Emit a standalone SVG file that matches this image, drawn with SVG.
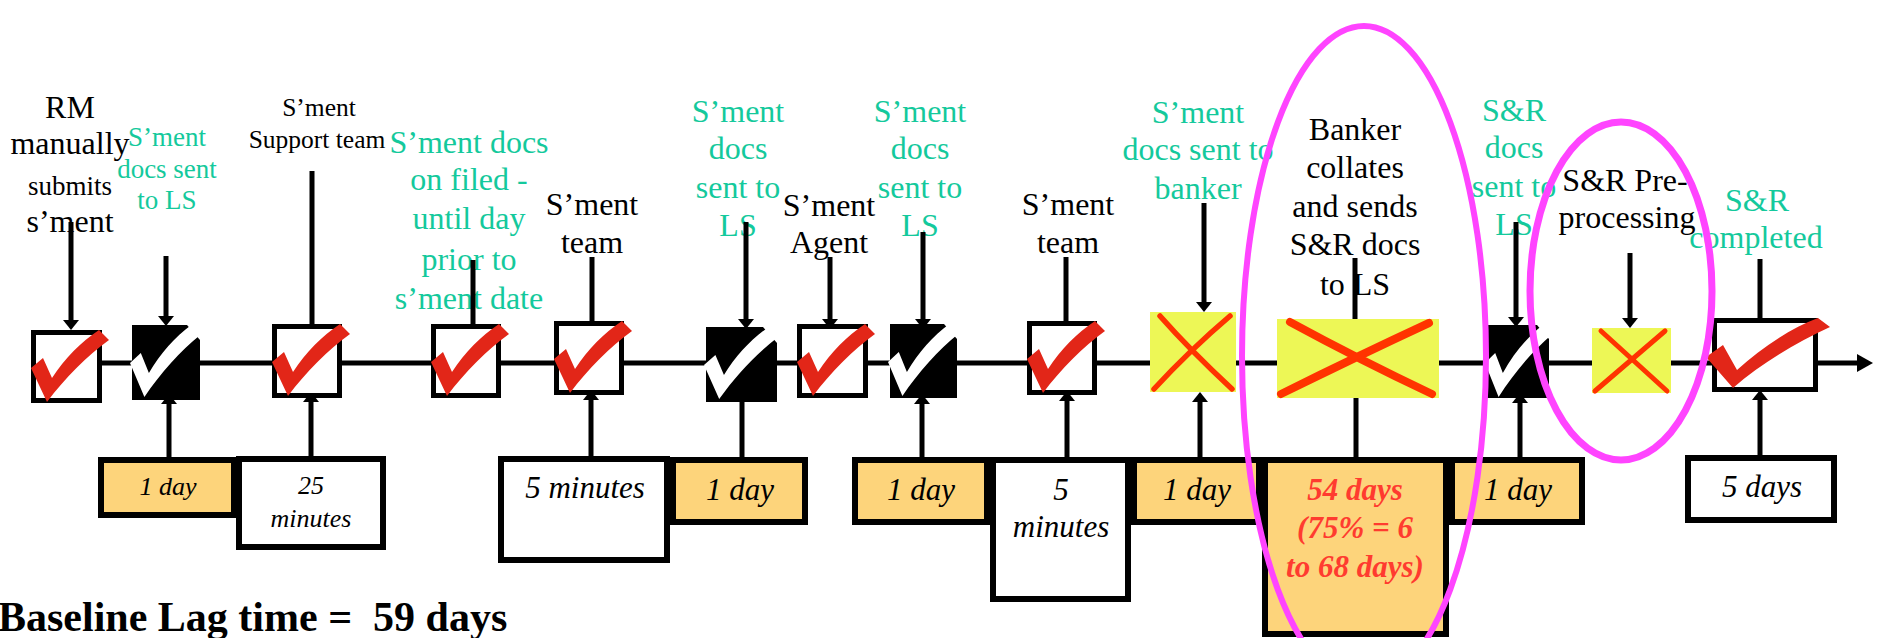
<svg xmlns="http://www.w3.org/2000/svg" xmlns:xlink="http://www.w3.org/1999/xlink" width="1880" height="638" viewBox="0 0 1880 638">
  <style>
    text { font-family: "Liberation Serif", "Times New Roman", serif; text-anchor: middle; }
    .k { fill: #000000; }
    .t { fill: #14C99C; }
    .f32 { font-size: 32px; }
    .f27 { font-size: 27px; }
    .f25 { font-size: 25.5px; }
    .dur { font-style: italic; font-size: 31px; fill: #000000; }
    .dur-s { font-style: italic; font-size: 26px; fill: #000000; }
    .dur-red { font-style: italic; font-weight: bold; font-size: 31px; fill: #FF3B2F; }
    .conn { stroke: #000000; stroke-width: 5; fill: none; }
    .box { fill: #FFFFFF; stroke: #000000; stroke-width: 5; }
    .blk { fill: #000000; }
    .yel { fill: #EDF756; }
    .org { fill: #FDD47B; stroke: #000000; stroke-width: 6; }
    .wht { fill: #FFFFFF; stroke: #000000; stroke-width: 6; }
    .tick-r { fill: #E22618; }
    .tick-w { fill: #FFFFFF; }
    .cross { stroke: #FF3300; fill: none; stroke-linecap: round; }
    .ring { fill: none; stroke: #FF44FF; }
  </style>
  <defs>
    <marker id="ah" viewBox="0 0 10 16" refX="4" refY="8" markerWidth="10" markerHeight="16" markerUnits="userSpaceOnUse" orient="auto">
      <path d="M0,0 L10,8 L0,16 Z" fill="#000000"/>
    </marker>
    <marker id="mh" viewBox="0 0 16 18" refX="6" refY="9" markerWidth="16" markerHeight="18" markerUnits="userSpaceOnUse" orient="auto">
      <path d="M0,0 L16,9 L0,18 Z" fill="#000000"/>
    </marker>
    <path id="tick" d="M0,38 L12,28 L21,48 C34,28 50,12 68,0 L78,10 C56,26 34,48 16,72 Z"/>
  </defs>

  <rect x="0" y="0" width="1880" height="638" fill="#FFFFFF"/>

  <!-- step labels above the timeline -->
  <g id="lbl-rm" class="k">
    <text class="f32" x="70" y="118">RM</text>
    <text class="f32" x="70" y="154">manually</text>
    <text class="f27" x="70" y="195">submits</text>
    <text class="f32" x="70" y="232">s’ment</text>
  </g>
  <g id="lbl-docs-ls-1" class="t">
    <text class="f27" x="167" y="146">S’ment</text>
    <text class="f27" x="167" y="178">docs sent</text>
    <text class="f27" x="167" y="209">to LS</text>
  </g>
  <g id="lbl-support" class="k">
    <text class="f25" x="319" y="116">S’ment</text>
    <text class="f25" x="317" y="148">Support team</text>
  </g>
  <g id="lbl-filed" class="t">
    <text class="f32" x="469" y="153">S’ment docs</text>
    <text class="f32" x="469" y="190">on filed -</text>
    <text class="f32" x="469" y="229">until day</text>
    <text class="f32" x="469" y="270">prior to</text>
    <text class="f32" x="469" y="309">s’ment date</text>
  </g>
  <g id="lbl-team-1" class="k">
    <text class="f32" x="592" y="215">S’ment</text>
    <text class="f32" x="592" y="253">team</text>
  </g>
  <g id="lbl-docs-ls-2" class="t">
    <text class="f32" x="738" y="122">S’ment</text>
    <text class="f32" x="738" y="159">docs</text>
    <text class="f32" x="738" y="198">sent to</text>
    <text class="f32" x="738" y="236">LS</text>
  </g>
  <g id="lbl-agent" class="k">
    <text class="f32" x="829" y="216">S’ment</text>
    <text class="f32" x="829" y="253">Agent</text>
  </g>
  <g id="lbl-docs-ls-3" class="t">
    <text class="f32" x="920" y="122">S’ment</text>
    <text class="f32" x="920" y="159">docs</text>
    <text class="f32" x="920" y="198">sent to</text>
    <text class="f32" x="920" y="236">LS</text>
  </g>
  <g id="lbl-team-2" class="k">
    <text class="f32" x="1068" y="215">S’ment</text>
    <text class="f32" x="1068" y="253">team</text>
  </g>
  <g id="lbl-docs-banker" class="t">
    <text class="f32" x="1198" y="123">S’ment</text>
    <text class="f32" x="1198" y="160">docs sent to</text>
    <text class="f32" x="1198" y="199">banker</text>
  </g>
  <g id="lbl-collates" class="k">
    <text class="f32" x="1355" y="140">Banker</text>
    <text class="f32" x="1355" y="178">collates</text>
    <text class="f32" x="1355" y="217">and sends</text>
    <text class="f32" x="1355" y="255">S&amp;R docs</text>
    <text class="f32" x="1355" y="295">to LS</text>
  </g>
  <g id="lbl-sr-docs" class="t">
    <text class="f32" x="1514" y="121">S&amp;R</text>
    <text class="f32" x="1514" y="158">docs</text>
    <text class="f32" x="1514" y="197">sent to</text>
    <text class="f32" x="1514" y="235">LS</text>
  </g>
  <g id="lbl-preproc" class="k">
    <text class="f32" x="1625" y="191">S&amp;R Pre-</text>
    <text class="f32" x="1627" y="228">processing</text>
  </g>
  <g id="lbl-completed" class="t">
    <text class="f32" x="1757" y="211">S&amp;R</text>
    <text class="f32" x="1756" y="248">completed</text>
  </g>

  <!-- timeline, inputs from above and lag times from below -->
  <g id="connectors" class="conn">
    <line x1="31" y1="363" x2="1863" y2="363" marker-end="url(#mh)"/>

    <line x1="71" y1="222" x2="71" y2="324" marker-end="url(#ah)"/>
    <line x1="166" y1="256" x2="166" y2="320" marker-end="url(#ah)"/>
    <line x1="312" y1="171" x2="312" y2="326"/>
    <line x1="473" y1="260" x2="473" y2="326"/>
    <line x1="592" y1="257" x2="592" y2="323"/>
    <line x1="746" y1="222" x2="746" y2="323" marker-end="url(#ah)"/>
    <line x1="830" y1="257" x2="830" y2="323" marker-end="url(#ah)"/>
    <line x1="923" y1="232" x2="923" y2="323" marker-end="url(#ah)"/>
    <line x1="1066" y1="257" x2="1066" y2="323"/>
    <line x1="1204" y1="203" x2="1204" y2="306" marker-end="url(#ah)"/>
    <line x1="1355" y1="258" x2="1355" y2="321"/>
    <line x1="1516" y1="222" x2="1516" y2="321" marker-end="url(#ah)"/>
    <line x1="1630" y1="253" x2="1630" y2="322" marker-end="url(#ah)"/>
    <line x1="1760" y1="259" x2="1760" y2="320"/>

    <line x1="169" y1="460" x2="169" y2="400" marker-end="url(#ah)"/>
    <line x1="311" y1="459" x2="311" y2="398" marker-end="url(#ah)"/>
    <line x1="591" y1="459" x2="591" y2="396" marker-end="url(#ah)"/>
    <line x1="742" y1="460" x2="742" y2="402"/>
    <line x1="922" y1="460" x2="922" y2="400" marker-end="url(#ah)"/>
    <line x1="1067" y1="460" x2="1067" y2="397" marker-end="url(#ah)"/>
    <line x1="1200" y1="460" x2="1200" y2="398" marker-end="url(#ah)"/>
    <line x1="1356" y1="460" x2="1356" y2="398"/>
    <line x1="1520" y1="460" x2="1520" y2="399" marker-end="url(#ah)"/>
    <line x1="1760" y1="458" x2="1760" y2="396" marker-end="url(#ah)"/>
  </g>

  <!-- process steps on the timeline -->
  <g id="step-01">
    <rect class="box" x="33.5" y="332.5" width="66" height="68"/>
    <use href="#tick" class="tick-r" transform="translate(31,330)"/>
  </g>
  <g id="step-02">
    <path class="blk" d="M132,325 L187,325 L200,340 L200,400 L132,400 Z"/>
    <use href="#tick" class="tick-w" transform="translate(130,325) scale(0.9,1)"/>
  </g>
  <g id="step-03">
    <rect class="box" x="274.5" y="326.5" width="65" height="69"/>
    <use href="#tick" class="tick-r" transform="translate(272,324)"/>
  </g>
  <g id="step-04">
    <rect class="box" x="433.5" y="326.5" width="65" height="69"/>
    <use href="#tick" class="tick-r" transform="translate(431,324)"/>
  </g>
  <g id="step-05">
    <rect class="box" x="556.5" y="323.5" width="65" height="69"/>
    <use href="#tick" class="tick-r" transform="translate(554,321)"/>
  </g>
  <g id="step-06">
    <path class="blk" d="M706,327 L763,327 L777,343 L777,402 L706,402 Z"/>
    <use href="#tick" class="tick-w" transform="translate(704,327) scale(0.95,1)"/>
  </g>
  <g id="step-07">
    <rect class="box" x="799.5" y="326.5" width="66" height="69"/>
    <use href="#tick" class="tick-r" transform="translate(797,324)"/>
  </g>
  <g id="step-08">
    <path class="blk" d="M890,324 L944,324 L957,339 L957,398 L890,398 Z"/>
    <use href="#tick" class="tick-w" transform="translate(888,324) scale(0.9,1)"/>
  </g>
  <g id="step-09">
    <rect class="box" x="1029.5" y="323.5" width="65" height="69"/>
    <use href="#tick" class="tick-r" transform="translate(1027,321)"/>
  </g>
  <g id="step-10">
    <rect class="yel" x="1150" y="312" width="86" height="80"/>
    <path class="cross" stroke-width="5.5" d="M1160,316 Q1190,350 1232,389 M1230,316 Q1190,350 1154,389"/>
  </g>
  <g id="step-11">
    <rect class="yel" x="1277" y="319" width="162" height="79"/>
    <path class="cross" stroke-width="8" d="M1290,322 Q1360,360 1432,394 M1281,394 Q1360,355 1429,323"/>
  </g>
  <g id="step-12">
    <path class="blk" d="M1487,325 L1537,325 L1549,339 L1549,398 L1487,398 Z"/>
    <use href="#tick" class="tick-w" transform="translate(1485,325) scale(0.85,1)"/>
  </g>
  <g id="step-13">
    <rect class="yel" x="1592" y="328" width="79" height="65"/>
    <path class="cross" stroke-width="5" d="M1601,331 L1667,391 M1665,331 L1595,391"/>
  </g>
  <g id="step-14">
    <rect class="box" x="1714.5" y="320.5" width="101" height="69"/>
    <path class="tick-r" d="M1706,357 L1723,345 L1737,370 C1761,348 1791,328 1818,318 L1830,327 C1796,343 1761,363 1733,388 Z"/>
  </g>

  <!-- lag times under each step -->
  <g id="lag-01">
    <rect class="org" x="101" y="460" width="133" height="55"/>
    <text class="dur-s" x="168" y="495">1 day</text>
  </g>
  <g id="lag-02">
    <rect class="wht" x="239" y="459" width="144" height="88"/>
    <text class="dur-s" x="311" y="494">25</text>
    <text class="dur-s" x="311" y="527">minutes</text>
  </g>
  <g id="lag-03">
    <rect class="wht" x="501" y="459" width="166" height="101"/>
    <text class="dur" x="585" y="498">5 minutes</text>
  </g>
  <g id="lag-04">
    <rect class="org" x="673" y="460" width="132" height="62"/>
    <text class="dur" x="740" y="500">1 day</text>
  </g>
  <g id="lag-05">
    <rect class="org" x="855" y="460" width="132" height="62"/>
    <text class="dur" x="921" y="500">1 day</text>
  </g>
  <g id="lag-06">
    <rect class="wht" x="993" y="460" width="135" height="139"/>
    <text class="dur" x="1061" y="500">5</text>
    <text class="dur" x="1061" y="537">minutes</text>
  </g>
  <g id="lag-07">
    <rect class="org" x="1134" y="460" width="125" height="62"/>
    <text class="dur" x="1197" y="500">1 day</text>
  </g>
  <g id="lag-08">
    <rect class="org" x="1265" y="460" width="181" height="174"/>
    <text class="dur-red" x="1355" y="500">54 days</text>
    <text class="dur-red" x="1355" y="538">(75% = 6</text>
    <text class="dur-red" x="1355" y="577">to 68 days)</text>
  </g>
  <g id="lag-09">
    <rect class="org" x="1452" y="460" width="130" height="62"/>
    <text class="dur" x="1518" y="500">1 day</text>
  </g>
  <g id="lag-10">
    <rect class="wht" x="1688" y="458" width="146" height="62"/>
    <text class="dur" x="1762" y="497">5 days</text>
  </g>

  <!-- highlighted bottlenecks -->
  <g id="focus-banker">
    <ellipse class="ring" stroke-width="6" cx="1364" cy="356" rx="122" ry="330"/>
  </g>
  <g id="focus-preproc">
    <ellipse class="ring" stroke-width="7" cx="1621" cy="291" rx="91" ry="169"/>
  </g>

  <g id="total">
    <text x="-2" y="631" xml:space="preserve" style="text-anchor:start;font-weight:bold;font-size:42px;fill:#000000">Baseline Lag time =  59 days</text>
  </g>
</svg>
